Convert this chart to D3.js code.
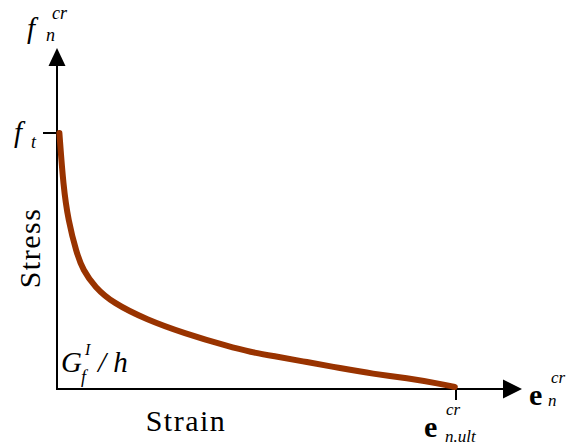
<!DOCTYPE html>
<html>
<head>
<meta charset="utf-8">
<script src="https://cdn.jsdelivr.net/npm/d3@7"></script>
<style>
  @font-face { font-family: "PlotSerif"; font-style: normal; font-weight: 400; src: local("Liberation Serif"), local("LiberationSerif"), local("Liberation Serif Regular"), local("LiberationSerif-Regular"); }
  @font-face { font-family: "PlotSerif"; font-style: italic; font-weight: 400; src: local("Liberation Serif Italic"), local("LiberationSerif-Italic"); }
  @font-face { font-family: "PlotSerif"; font-style: normal; font-weight: 700; src: local("Liberation Serif Bold"), local("LiberationSerif-Bold"); }
</style>
</head>
<body style="margin:0">
<svg id="fig" width="566" height="448"></svg>
<script>
// Normalised softening curve: strain / ultimate strain, stress / tensile strength
const strain = [0.006, 0.016, 0.028, 0.049, 0.065, 0.095, 0.140, 0.226, 0.316, 0.434, 0.484, 0.541, 0.627, 0.709, 0.792, 0.877, 0.960, 0.997];
const stress = [1.000, 0.790, 0.660, 0.531, 0.465, 0.398, 0.336, 0.270, 0.219, 0.164, 0.145, 0.129, 0.105, 0.082, 0.059, 0.043, 0.020, 0.008];
const stressTicks = [1];   // f_t
const strainTicks = [1];   // ultimate crack strain

const faces = ["Liberation Serif", "PlotSerif", "Tinos", "Times"];
const fontStack = faces.map(f => `"${f}"`).join(", ") + ", serif";

const svg = d3.select("#fig");

const x = d3.scaleLinear().domain([0, 1]).range([57, 456]);
const y = d3.scaleLinear().domain([0, 1]).range([389, 133]);

const xEnd = 522, yEnd = 48;

// axes
svg.append("line").attr("x1", x(0)).attr("y1", y(0)).attr("x2", xEnd - 12).attr("y2", y(0))
  .attr("stroke", "#000").attr("stroke-width", 2);
svg.append("line").attr("x1", x(0)).attr("y1", y(0) + 1).attr("x2", x(0)).attr("y2", yEnd + 12)
  .attr("stroke", "#000").attr("stroke-width", 2);

// arrowheads
svg.append("path")
  .attr("d", `M${xEnd},${y(0)} L${xEnd - 19},${y(0) - 9.5} L${xEnd - 19},${y(0) + 9.5} Z`)
  .attr("fill", "#000");
svg.append("path")
  .attr("d", `M${x(0)},${yEnd} L${x(0) - 8.5},${yEnd + 18} L${x(0) + 8.5},${yEnd + 18} Z`)
  .attr("fill", "#000");

// ticks
svg.selectAll(".ytick").data(stressTicks).join("line")
  .attr("x1", x(0) - 14).attr("x2", x(0))
  .attr("y1", d => y(d)).attr("y2", d => y(d))
  .attr("stroke", "#000").attr("stroke-width", 2);
svg.selectAll(".xtick").data(strainTicks).join("line")
  .attr("x1", d => x(d)).attr("x2", d => x(d))
  .attr("y1", y(0)).attr("y2", y(0) + 11)
  .attr("stroke", "#000").attr("stroke-width", 2);

// softening curve
const line = d3.line()
  .x((d, i) => x(strain[i]))
  .y(d => y(d))
  .curve(d3.curveBasis);
svg.append("path")
  .attr("d", line(stress))
  .attr("fill", "none")
  .attr("stroke", "#993300")
  .attr("stroke-width", 6)
  .attr("stroke-linecap", "round")
  .attr("stroke-linejoin", "round");

// labels: [x, y, text, size, style, anchor, letter-spacing, transform]
const labels = [
  [27, 38, "f", 29, "italic"],
  [46, 41, "n", 18, "italic"],
  [52, 19, "cr", 18, "italic"],
  [14, 142, "f", 29, "italic"],
  [31, 148, "t", 18, "italic"],
  [0, 0, "Stress", 30, "normal", "middle", 1.5, "translate(40,248) rotate(-90)"],
  [186, 431, "Strain", 30, "normal", "middle", 1.5],
  [61, 372, "G", 29, "italic"],
  [85, 355, "I", 16, "italic"],
  [81, 383, "f", 18, "italic"],
  [98, 372, "/ h", 29, "italic"],
  [529, 405, "e", 30, "bold"],
  [548, 406, "n", 17, "italic"],
  [551, 383, "cr", 17, "italic"],
  [424, 437, "e", 30, "bold"],
  [446, 415, "cr", 17, "italic"],
  [445, 442, "n.ult", 17, "italic"]
];

svg.selectAll("text.lbl").data(labels).join("text")
  .attr("class", "lbl")
  .attr("x", d => d[0]).attr("y", d => d[1])
  .attr("font-size", d => d[3])
  .attr("font-family", fontStack)
  .attr("text-anchor", d => d[5] || "start")
  .attr("transform", d => d[7] || null)
  .style("font-family", fontStack, "important")
  .style("font-style", d => d[4] === "italic" ? "italic" : "normal")
  .style("font-weight", d => d[4] === "bold" ? "bold" : "normal")
  .style("letter-spacing", d => (d[6] || 0) + "px")
  .attr("fill", "#000")
  .text(d => d[2]);
</script>
</body>
</html>
